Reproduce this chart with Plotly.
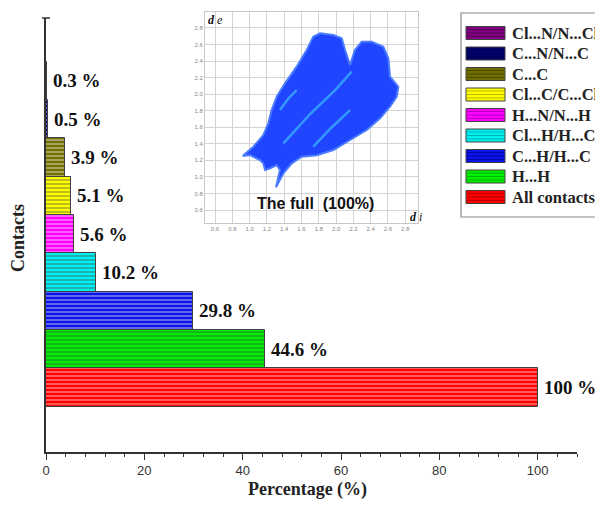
import plotly.graph_objects as go

# ---------------- data ----------------
contacts = ["All contacts", "H...H", "C...H/H...C", "Cl...H/H...Cl", "H...N/N...H",
            "Cl...C/C...Cl", "C...C", "C...N/N...C", "Cl...N/N...Cl"]
percent = [100, 44.6, 29.8, 10.2, 5.6, 5.1, 3.9, 0.5, 0.3]
labels = ["100 %", "44.6 %", "29.8 %", "10.2 %", "5.6 %", "5.1 %", "3.9 %", "0.5 %", "0.3 %"]
colors = ["#ff0000", "#00ee00", "#0a14e6", "#00f0f0", "#ff00ff", "#ffff00", "#707000", "#00006e", "#800080"]
stripe = ["#8a0000", "#0a8a0a", "#00007a", "#008a8a", "#8a008a", "#8a8a00", "#303000", "#000030", "#380038"]

x_ticks = [0, 20, 40, 60, 80, 100]

# fingerprint outline (de vs di)
fp_di = [0.920, 1.043, 1.158, 1.216, 1.255, 1.313, 1.409, 1.544, 1.660, 1.736, 1.814, 1.968,
         2.065, 2.103, 2.161, 2.218, 2.296, 2.412, 2.546, 2.604, 2.623, 2.719, 2.701, 2.623,
         2.508, 2.354, 2.161, 1.968, 1.776, 1.602, 1.487, 1.390, 1.305, 1.351, 1.313, 1.236,
         1.178, 1.158, 1.120, 1.005, 0.920]
fp_de = [1.252, 1.365, 1.506, 1.648, 1.808, 1.969, 2.131, 2.332, 2.534, 2.695, 2.736, 2.715,
         2.675, 2.534, 2.353, 2.534, 2.634, 2.634, 2.574, 2.434, 2.211, 2.090, 1.969, 1.848,
         1.708, 1.567, 1.446, 1.325, 1.263, 1.244, 1.164, 1.043, 0.874, 1.083, 1.143, 1.103,
         1.083, 1.164, 1.204, 1.264, 1.252]
# bright streaks inside fingerprint
streaks = [
    ([1.390, 1.700, 2.000, 2.180], [1.406, 1.760, 2.060, 2.272]),
    ([1.736, 1.950, 2.161], [1.365, 1.600, 1.808]),
    ([1.351, 1.450, 1.544], [1.808, 1.950, 2.050]),
]
inset_ticks = [0.6, 0.8, 1.0, 1.2, 1.4, 1.6, 1.8, 2.0, 2.2, 2.4, 2.6, 2.8]

W, H = 595, 509
ML, MR, MT, MB = 46, 18, 10, 57
PW, PH = W - ML - MR, H - MT - MB


def px(x):
    return (x - ML) / PW


def py(y):
    return (H - MB - y) / PH


SERIF = "Liberation Serif, Times New Roman, serif"
SANS = "Liberation Sans, Arial, sans-serif"

pos = list(range(len(contacts)))

fig = go.Figure()

# inset fingerprint
fig.add_trace(go.Scatter(
    x=fp_di, y=fp_de, mode="lines", fill="toself",
    fillcolor="#1f45ff", line=dict(color="#4a7bff", width=2),
    xaxis="x2", yaxis="y2", showlegend=False, hoverinfo="skip"))
for sx, sy in streaks:
    fig.add_trace(go.Scatter(
        x=sx, y=sy, mode="lines", line=dict(color="rgba(60,190,255,0.7)", width=2.5),
        xaxis="x2", yaxis="y2", showlegend=False, hoverinfo="skip"))

# main bars
fig.add_trace(go.Bar(
    x=percent, y=pos, orientation="h", width=1,
    marker=dict(color=colors, line=dict(color="#404040", width=1),
                pattern=dict(shape="-", size=4, solidity=0.3, fgcolor=stripe,
                             bgcolor=colors, fgopacity=0.6)),
    showlegend=False, hoverinfo="skip"))

annotations = []
for v, p, t in zip(percent, pos, labels):
    annotations.append(dict(x=v, y=p, xref="x", yref="y", text="<b>%s</b>" % t,
                            showarrow=False, xanchor="left", yanchor="middle", xshift=4,
                            font=dict(family=SERIF, size=19, color="#111")))

# axis titles
annotations.append(dict(x=px(307), y=py(490), xref="paper", yref="paper",
                        text="<b>Percentage (%)</b>", showarrow=False,
                        xanchor="center", yanchor="middle",
                        font=dict(family=SERIF, size=18, color="#222")))
annotations.append(dict(x=px(18), y=py(238), xref="paper", yref="paper",
                        text="<b>Contacts</b>", showarrow=False, textangle=-90,
                        xanchor="center", yanchor="middle",
                        font=dict(family=SERIF, size=18, color="#222")))

# inset labels
annotations.append(dict(x=px(315), y=py(203), xref="paper", yref="paper",
                        text="<b>The full \u00a0(100%)</b>", showarrow=False,
                        xanchor="center", yanchor="middle",
                        font=dict(family=SANS, size=16, color="#111")))
annotations.append(dict(x=px(206), y=py(20), xref="paper", yref="paper",
                        text="<b><i>d</i></b> <i>e</i>", showarrow=False,
                        xanchor="left", yanchor="middle",
                        font=dict(family=SERIF, size=12, color="#111")))
annotations.append(dict(x=px(408), y=py(217), xref="paper", yref="paper",
                        text="<b><i>d</i></b> <i>i</i>", showarrow=False,
                        xanchor="left", yanchor="middle",
                        font=dict(family=SERIF, size=12, color="#111")))

# y-axis top cap
shapes = [dict(type="line", xref="paper", yref="paper", x0=px(42), x1=px(50),
               y0=py(18), y1=py(18), line=dict(color="#333", width=1.5))]

# legend (manual, wide striped swatches)
shapes.append(dict(type="rect", xref="paper", yref="paper", x0=px(461), x1=px(602),
                   y0=py(217), y1=py(13), line=dict(color="#8a8a8a", width=1.2),
                   fillcolor="white", layer="above"))
order = list(reversed(pos))
for i, idx in enumerate(order):
    cy = 33 + i * 20.5
    shapes.append(dict(type="rect", xref="paper", yref="paper", x0=px(466), x1=px(505),
                       y0=py(cy + 6.5), y1=py(cy - 6.5), fillcolor=colors[idx],
                       line=dict(color="#404040", width=1), layer="above"))
    for off in (-3.5, 0, 3.5):
        shapes.append(dict(type="line", xref="paper", yref="paper", x0=px(467), x1=px(504),
                           y0=py(cy + off), y1=py(cy + off),
                           line=dict(color=stripe[idx], width=1), opacity=0.6, layer="above"))
    annotations.append(dict(x=px(510), y=py(cy), xref="paper", yref="paper",
                            text="<b>%s</b>" % contacts[idx], showarrow=False,
                            xanchor="left", yanchor="middle",
                            font=dict(family=SERIF, size=16.5, color="#222")))

fig.update_layout(
    width=W, height=H,
    margin=dict(l=ML, r=MR, t=MT, b=MB, autoexpand=False),
    paper_bgcolor="white", plot_bgcolor="white",
    bargap=0,
    xaxis=dict(range=[0, 108], tickvals=x_ticks, ticks="outside", ticklen=6, tickwidth=1,
               tickcolor="#333", showline=True, linecolor="#333", linewidth=1.5,
               showgrid=False, zeroline=False, automargin=False,
               minor=dict(dtick=4, ticks="outside", ticklen=3, tickcolor="#333"),
               tickfont=dict(family=SANS, size=13, color="#333")),
    yaxis=dict(range=[-1.68, 9.64], domain=[0, py(18)], showticklabels=False, ticks="",
               showline=True, linecolor="#333", linewidth=1.5, showgrid=False, zeroline=False,
               automargin=False),
    xaxis2=dict(domain=[px(205), px(418)], range=[0.484, 2.947], anchor="y2",
                tickvals=inset_ticks, ticktext=["%.1f" % t for t in inset_ticks],
                showgrid=True, gridcolor="#d4d4d4", gridwidth=1, zeroline=False,
                showline=True, linecolor="#c8c8c8", mirror=True, ticks="", automargin=False,
                tickfont=dict(family=SANS, size=6, color="#888")),
    yaxis2=dict(domain=[py(223), py(12)], range=[0.443, 2.993], anchor="x2",
                tickvals=inset_ticks, ticktext=["%.1f" % t for t in inset_ticks],
                showgrid=True, gridcolor="#d4d4d4", gridwidth=1, zeroline=False,
                showline=True, linecolor="#c8c8c8", mirror=True, ticks="", automargin=False,
                tickfont=dict(family=SANS, size=6, color="#888")),
    annotations=annotations,
    shapes=shapes,
)

fig.write_html("out.html", config={"displayModeBar": False},
               post_script="document.body.style.margin='0px';")
